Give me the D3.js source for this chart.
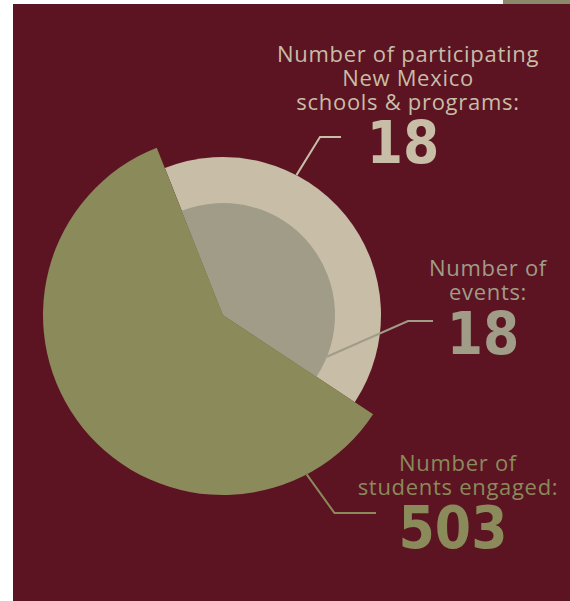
<!DOCTYPE html>
<html>
<head>
<meta charset="utf-8">
<script src="https://cdn.jsdelivr.net/npm/d3@7"></script>
<style>
  html, body { margin: 0; padding: 0; background: #fff; }
  svg { display: block; }
</style>
</head>
<body>
<div id="chart"></div>
<script>
// label text for each metric
const metricLabels = [
  ["Number of participating", "New Mexico", "schools & programs:"],
  ["Number of", "events:"],
  ["Number of", "students engaged:"]
];
const metricValues = [18, 18, 503];

// share of the circle taken by each wedge (%)
// first wedge = schools & events (drawn as two nested rings), second = students
const wedgeShares = [40.3, 59.7];
const wedgeStartDeg = -21.6;

const width = 570, height = 601;
const cx = 223, cy = 315;

const colors = {
  bg: "#5c1422",
  tab: "#8b896b",
  schools: "#c8bda6",
  events: "#a09c87",
  students: "#8a8a5b"
};

const svg = d3.select("#chart")
  .append("svg")
    .attr("width", width)
    .attr("height", height);

// background panel + little tab at top right
svg.append("rect")
  .attr("x", 13).attr("y", 4)
  .attr("width", width - 13).attr("height", height - 4)
  .attr("fill", colors.bg);
svg.append("rect")
  .attr("x", 503).attr("y", 0)
  .attr("width", width - 503).attr("height", 4)
  .attr("fill", colors.tab);

const pie = d3.pie()
  .sort(null)
  .value(d => d)
  .startAngle(wedgeStartDeg * Math.PI / 180)
  .endAngle(wedgeStartDeg * Math.PI / 180 + 2 * Math.PI);

const wedges = pie(wedgeShares);

// radius per metric
const radius = d3.scaleOrdinal()
  .domain([0, 1, 2])
  .range([158, 112, 180]);

const fillFor = [colors.schools, colors.events, colors.students];
// which wedge each metric sits in
const wedgeOf = [0, 0, 1];

const g = svg.append("g")
  .attr("transform", `translate(${cx},${cy})`);

g.selectAll("path.slice")
  .data(metricValues.map((v, i) => ({i: i, v: v, w: wedges[wedgeOf[i]]})))
  .join("path")
    .attr("class", "slice")
    .attr("d", d => d3.arc()
      .innerRadius(0)
      .outerRadius(radius(d.i))
      .startAngle(d.w.startAngle)
      .endAngle(d.w.endAngle)())
    .attr("fill", d => fillFor[d.i]);

// label layout: angle where the leader meets the arc, elbow, end, text anchor
const labelLayout = [
  {deg: 27.7,  elbow: [320, 137],   end: [341, 137],   tx: 408, ty: 62,  num: 162.5},
  {deg: 111.9, elbow: [408, 321],   end: [433, 321],   tx: 488, ty: 276, num: 354},
  {deg: 152.3, elbow: [334.5, 513], end: [376, 513],   tx: 458, ty: 471, num: 548}
];

labelLayout.forEach((L, i) => {
  const p = d3.pointRadial(L.deg * Math.PI / 180, radius(i));
  svg.append("polyline")
    .attr("points", [[cx + p[0], cy + p[1]], L.elbow, L.end].map(q => q.join(",")).join(" "))
    .attr("fill", "none")
    .attr("stroke", fillFor[i])
    .attr("stroke-width", 2);

  const t = svg.append("text")
    .attr("text-anchor", "middle")
    .attr("font-family", "'Open Sans', sans-serif")
    .attr("font-size", 22)
    .attr("letter-spacing", 0.7)
    .attr("fill", fillFor[i]);
  metricLabels[i].forEach((line, k) => {
    t.append("tspan")
      .attr("x", L.tx)
      .attr("y", L.ty + k * 24)
      .text(line);
  });

  svg.append("text")
    .attr("x", L.tx - 5)
    .attr("y", L.num)
    .attr("text-anchor", "middle")
    .attr("font-family", "'DejaVu Sans', sans-serif")
    .attr("font-weight", "bold")
    .attr("font-stretch", "condensed")
    .attr("font-size", 58)
    .attr("fill", fillFor[i])
    .text(metricValues[i]);
});
</script>
</body>
</html>
